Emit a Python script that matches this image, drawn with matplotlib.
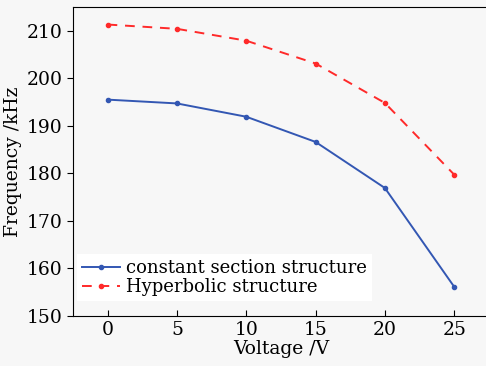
import matplotlib
matplotlib.use("Agg")
import matplotlib.pyplot as plt

voltage = [0, 5, 10, 15, 20, 25]
constant_section = [195.5, 194.7, 191.9, 186.6, 176.9, 156.1]
hyperbolic = [211.3, 210.4, 207.9, 203.1, 194.8, 179.7]

plt.rcParams['font.family'] = ['DejaVu Serif']

fig = plt.figure(figsize=(4.86, 3.66), dpi=100, facecolor='#f7f7f7')
ax = fig.add_axes([0.150, 0.137, 0.856, 0.844])
ax.set_facecolor('#f7f7f7')

ax.plot(voltage, constant_section, '-', color='#3357b3', marker='o', markersize=3,
        linewidth=1.4, label='constant section structure')
ax.plot(voltage, hyperbolic, '--', color='#ff2a2a', marker='o', markersize=3,
        linewidth=1.4, dashes=(5, 4), label='Hyperbolic structure')

ax.set_xlim(-2.5, 27.5)
ax.set_ylim(150, 215)
ax.set_xticks(voltage)
ax.set_yticks([150, 160, 170, 180, 190, 200, 210])
ax.tick_params(axis='x', direction='in', labelsize=13.5, length=4)
ax.tick_params(axis='y', direction='out', labelsize=13.5, length=4)
ax.set_xlabel('Voltage /V', fontsize=13.5, labelpad=1)
ax.set_ylabel('Frequency /kHz', fontsize=13.5, labelpad=3)

leg = ax.legend(loc='lower left', bbox_to_anchor=(0.0, 0.035), fontsize=13,
                frameon=True, fancybox=False, edgecolor='none', facecolor='white',
                framealpha=1, borderaxespad=0.2, handlelength=2.1,
                handletextpad=0.35, labelspacing=0.05, borderpad=0.3)

fig.savefig('out.png', dpi=100, facecolor=fig.get_facecolor())
